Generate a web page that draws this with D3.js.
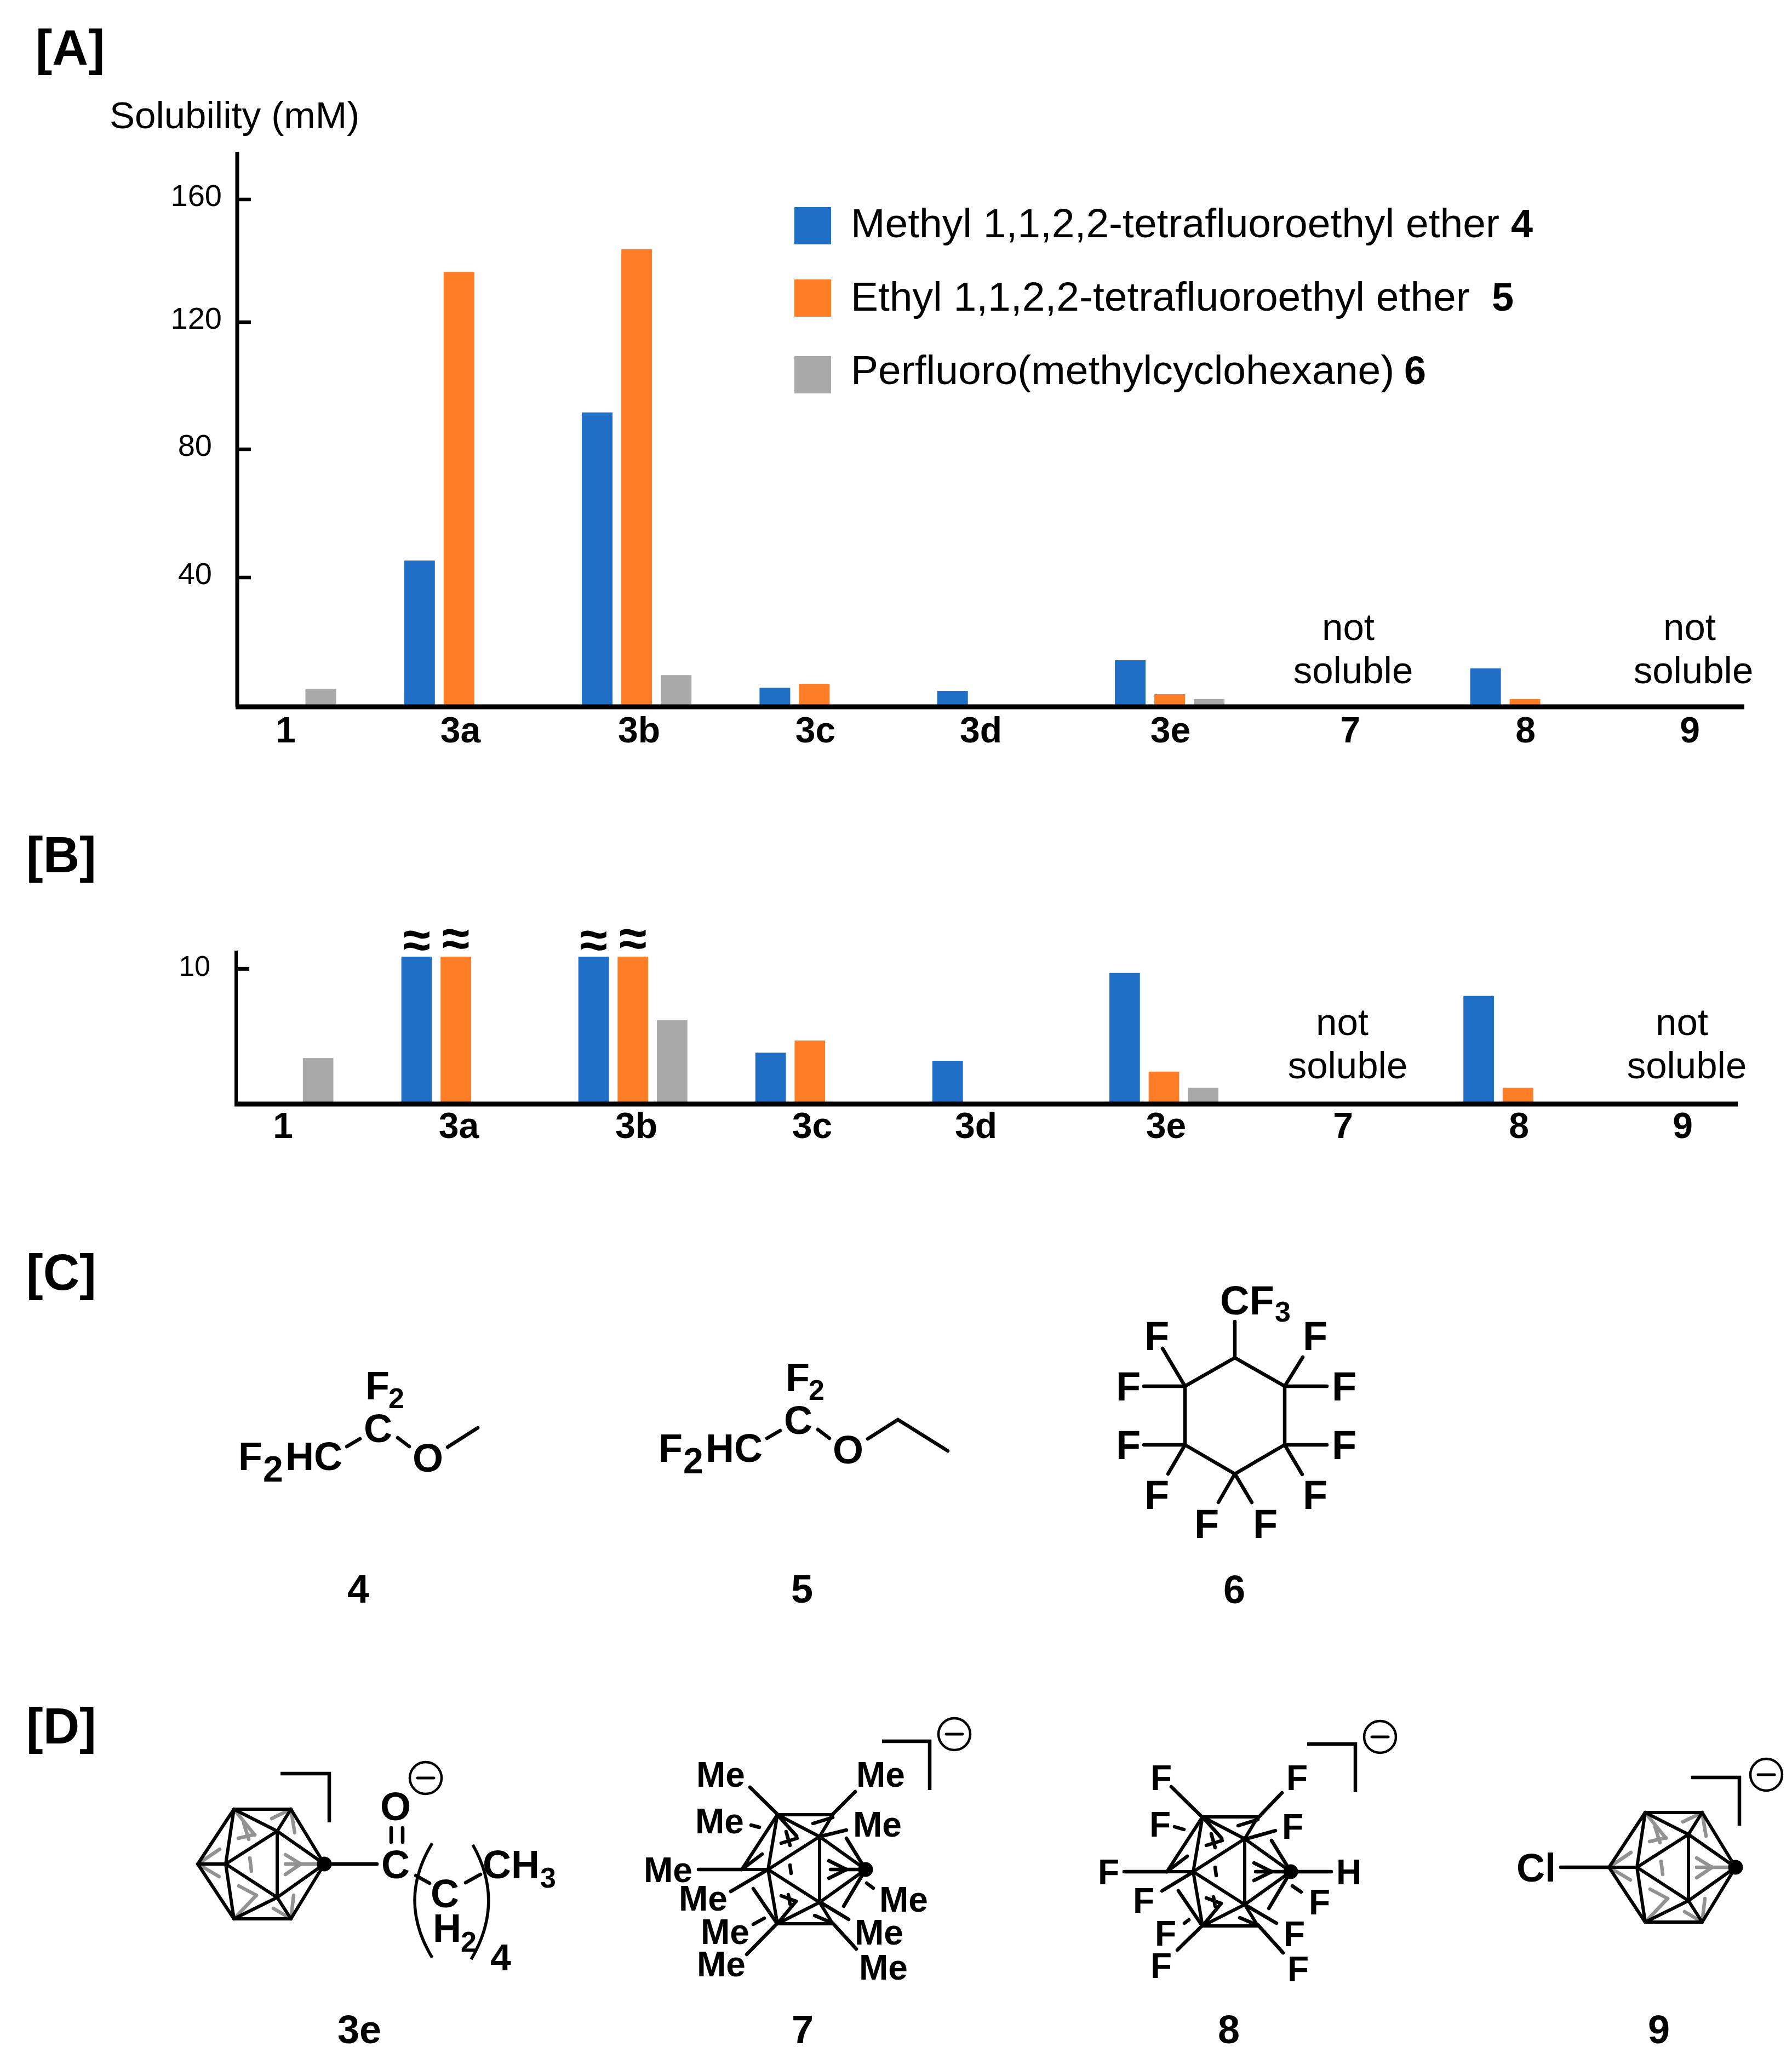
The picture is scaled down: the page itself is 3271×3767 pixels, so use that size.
<!DOCTYPE html>
<html>
<head>
<meta charset="utf-8">
<title>Solubility of carboranes</title>
<script src="https://cdn.jsdelivr.net/npm/d3@7"></script>
<style>
  body { margin: 0; background: #fff; }
  text { font-family: "Liberation Sans", Arial, sans-serif; fill: #000; }
  .tick text { font-family: "Liberation Sans", Arial, sans-serif; }
</style>
</head>
<body>
<script>
// values
var categories = ["1", "3a", "3b", "3c", "3d", "3e", "7", "8", "9"];
var seriesKeys = ["methyl", "ethyl", "perfluoro"];
var seriesNames = ["Methyl 1,1,2,2-tetrafluoroethyl ether", "Ethyl 1,1,2,2-tetrafluoroethyl ether", "Perfluoro(methylcyclohexane)"];
var seriesTags = ["4", "5", "6"];

var methylA = [0, 45.3, 91.6, 5.9, 4.9, 14.4, 0, 11.9, 0];
var ethylA = [0, 136.4, 143.8, 7.1, 0, 3.9, 0, 2.4, 0];
var perfluoroA = [5.6, 0, 9.8, 0, 0, 2.4, 0, 0, 0];

// panel B is cut at the break marks, 3a and 3b go on above 10.9
var methylB = [0, 10.9, 10.9, 3.8, 3.2, 9.7, 0, 8.0, 0];
var ethylB = [0, 10.9, 10.9, 4.7, 0, 2.4, 0, 1.2, 0];
var perfluoroB = [3.4, 0, 6.2, 0, 0, 1.2, 0, 0, 0];

var ticksA = [40, 80, 120, 160];
var ticksB = [10];
var notSoluble = ["7", "9"];
var brokenBars = [["3a", "methyl"], ["3a", "ethyl"], ["3b", "methyl"], ["3b", "ethyl"]];

var colors = d3.scaleOrdinal(seriesKeys, ["#1f6fc7", "#fd7e27", "#a9a9a9"]);

var svg = d3.select("body").append("svg")
    .attr("width", 3271)
    .attr("height", 3767)
    .style("display", "block");

svg.append("rect").attr("width", 3271).attr("height", 3767).attr("fill", "#fff");

function label(parent, text, x, y, size, bold, anchor) {
  return parent.append("text")
      .attr("x", x)
      .attr("y", y)
      .attr("font-size", size)
      .attr("font-weight", bold ? "bold" : "normal")
      .attr("text-anchor", anchor || "start")
      .text(text);
}

function rows(methyl, ethyl, perfluoro) {
  return categories.map(function(c, i) {
    return {category: c, methyl: methyl[i], ethyl: ethyl[i], perfluoro: perfluoro[i]};
  });
}

function drawBars(g, table, x, inner, y) {
  var groups = g.selectAll(".group")
    .data(table)
    .enter().append("g")
      .attr("class", "group")
      .attr("transform", function(d) { return "translate(" + x(d.category) + ",0)"; });

  groups.selectAll("rect")
    .data(function(d) {
      return seriesKeys.map(function(k) { return {key: k, value: d[k]}; }).filter(function(e) { return e.value > 0; });
    })
    .enter().append("rect")
      .attr("x", function(d) { return inner(d.key); })
      .attr("y", function(d) { return y(d.value); })
      .attr("width", inner.bandwidth())
      .attr("height", function(d) { return y(0) - y(d.value); })
      .attr("fill", function(d) { return colors(d.key); });
}

function drawAxes(g, yAxis, y, labels, axisX, axisEnd, lineWidth, padding) {
  var ay = g.append("g")
      .attr("transform", "translate(" + axisX + ",0)")
      .call(yAxis);
  ay.selectAll("path, line").attr("stroke", "#000");
  ay.select(".domain").attr("stroke-width", lineWidth);
  ay.selectAll(".tick line").attr("stroke-width", 6.5);

  g.append("line")
      .attr("x1", axisX - 3)
      .attr("x2", axisEnd)
      .attr("y1", y(0))
      .attr("y2", y(0))
      .attr("stroke", "#000")
      .attr("stroke-width", 9);

  var ax = g.append("g")
      .attr("transform", "translate(0," + y(0) + ")")
      .call(d3.axisBottom(labels).tickSize(0).tickPadding(padding));
  ax.select(".domain").remove();
  ax.selectAll("text").attr("font-size", 66).attr("font-weight", "bold");
  return ay;
}

function drawNotSoluble(g, pos) {
  notSoluble.forEach(function(c) {
    var p = pos[c];
    label(g, "not", p[0], p[2], 69, false, "middle");
    label(g, "soluble", p[1], p[3], 69, false, "middle");
  });
}

// panel A
var panelA = svg.append("g");
var xA = d3.scaleBand().domain(categories).range([413.5, 413.5 + 9 * 324.3]);
var innerA = d3.scaleBand().domain(seriesKeys).range([0, 200]).paddingInner(16 / 72);
// the printed axis is not quite even, so the scale follows its ticks
var yA = d3.scaleLinear().domain([0, 40, 80, 120, 160, 175]).range([1290, 1054, 820, 588, 364, 277]);
var labelsA = d3.scaleOrdinal(categories, [521, 840, 1166, 1488, 1790, 2136, 2464, 2784, 3084]);

drawBars(panelA, rows(methylA, ethylA, perfluoroA), xA, innerA, yA);

var axisA = drawAxes(panelA, d3.axisLeft(yA).tickValues(ticksA).tickSize(-25).tickSizeOuter(0).tickPadding(28).offset(0), yA, labelsA, 433, 3184, 7, 18);
axisA.selectAll(".tick text")
    .attr("font-size", 56)
    .attr("y", -6)
    .attr("x", function(d) { return d < 100 ? -46 : -28; });

label(panelA, "[A]", 65, 118, 91, true);
label(panelA, "Solubility (mM)", 200, 234, 69);
drawNotSoluble(panelA, {"7": [2461, 2470, 1168, 1247], "9": [3084, 3091, 1168, 1247]});

// legend
var legendY = d3.scaleOrdinal(seriesKeys, [412, 544, 684]);
var legendBase = d3.scaleOrdinal(seriesKeys, [433, 567, 701]);
var tagX = d3.scaleOrdinal(seriesKeys, [2758, 2723, 2563]);
var legend = panelA.selectAll(".legend")
  .data(seriesKeys)
  .enter().append("g")
    .attr("class", "legend");

legend.append("rect")
    .attr("x", 1450)
    .attr("y", function(d) { return legendY(d) - 34; })
    .attr("width", 67)
    .attr("height", 68)
    .attr("fill", colors);

legend.append("text")
    .attr("x", 1553)
    .attr("y", legendBase)
    .attr("font-size", 75)
    .text(function(d, i) { return seriesNames[i]; });

legend.append("text")
    .attr("x", tagX)
    .attr("y", legendBase)
    .attr("font-size", 72)
    .attr("font-weight", "bold")
    .text(function(d, i) { return seriesTags[i]; });

// panel B
var panelB = svg.append("g");
var xB = d3.scaleBand().domain(categories).range([409.5, 409.5 + 9 * 323.1]);
var innerB = d3.scaleBand().domain(seriesKeys).range([0, 199]).paddingInner(16 / 72);
var yB = d3.scaleLinear().domain([0, 11.35]).range([2015, 1735]);
var labelsB = d3.scaleOrdinal(categories, [516, 837, 1161, 1482, 1781, 2128, 2451, 2772, 3071]);

drawBars(panelB, rows(methylB, ethylB, perfluoroB), xB, innerB, yB);

var axisB = drawAxes(panelB, d3.axisLeft(yB).tickValues(ticksB).tickSize(-24).tickSizeOuter(0).tickPadding(47).offset(0), yB, labelsB, 431, 3172, 6, 15);
axisB.selectAll(".tick text").attr("font-size", 52).attr("y", -4);
axisB.selectAll(".tick line").attr("stroke-width", 7);

brokenBars.forEach(function(b) {
  var cx = xB(b[0]) + innerB(b[1]) + innerB.bandwidth() / 2;
  label(panelB, "\u2248", cx, b[1] == "ethyl" ? 1744 : 1747, 92, true, "middle");
});

label(panelB, "[B]", 48, 1592, 92, true);
drawNotSoluble(panelB, {"7": [2450, 2460, 1889, 1968], "9": [3070, 3079, 1889, 1968]});

// structures, drawn from the traced outlines
var structures = svg.append("g");

function drawLines(parent, list, color, width) {
  parent.append("g")
      .attr("stroke", color || "#000")
      .attr("stroke-width", width || 6.5)
      .attr("stroke-linecap", "round")
    .selectAll("line")
    .data(list)
    .enter().append("line")
      .attr("x1", function(d) { return d[0]; })
      .attr("y1", function(d) { return d[1]; })
      .attr("x2", function(d) { return d[2]; })
      .attr("y2", function(d) { return d[3]; });
}

function drawAtoms(parent, list) {
  parent.selectAll(".atom")
    .data(list)
    .enter().append("text")
      .attr("class", "atom")
      .attr("x", function(d) { return d[1] - 4; })
      .attr("y", function(d) { return d[2]; })
      .attr("font-size", function(d) { return d[3]; })
      .attr("font-weight", "bold")
      .text(function(d) { return d[0]; });
}

function drawCharge(parent, bracket, cx, cy) {
  parent.append("path")
      .attr("d", d3.line()(bracket))
      .attr("fill", "none")
      .attr("stroke", "#000")
      .attr("stroke-width", 6.5);
  parent.append("circle")
      .attr("cx", cx)
      .attr("cy", cy)
      .attr("r", 29)
      .attr("fill", "none")
      .attr("stroke", "#000")
      .attr("stroke-width", 4.5);
  drawLines(parent, [[cx - 15, cy, cx + 15, cy]], "#000", 5);
}

label(structures, "[C]", 48, 2354, 92, true);
label(structures, "[D]", 48, 3182, 92, true);

// 4 and 5 share the tetrafluoroethyl part
var etherAtoms = [
  ["F", 439, 2683, 72], ["2", 484, 2704, 66], ["HC", 525, 2683, 72],
  ["C", 668, 2632, 72], ["F", 671, 2554, 72], ["2", 713, 2570, 52], ["O", 757, 2686, 72]
];
var etherBonds = [[633, 2640, 657, 2626], [726, 2624, 747, 2640], [817, 2641, 872, 2606]];

var mol4 = structures.append("g");
drawAtoms(mol4, etherAtoms);
drawLines(mol4, etherBonds);

var mol5 = structures.append("g").attr("transform", "translate(767,-15)");
drawAtoms(mol5, etherAtoms);
drawLines(mol5, etherBonds.concat([[872, 2606, 963, 2663]]));

// 6
var ring = {top: [2254, 2478], ur: [2345, 2530], lr: [2345, 2637], bottom: [2254, 2690], ll: [2163, 2637], ul: [2163, 2530]};
var mol6 = structures.append("g");
mol6.append("path")
    .attr("d", d3.line()([ring.top, ring.ur, ring.lr, ring.bottom, ring.ll, ring.ul]) + "Z")
    .attr("fill", "none")
    .attr("stroke", "#000")
    .attr("stroke-width", 6.5);
drawLines(mol6, [
  [2254, 2478, 2254, 2412],
  [2163, 2530, 2122, 2461], [2163, 2530, 2088, 2530],
  [2345, 2530, 2378, 2477], [2345, 2530, 2422, 2530],
  [2163, 2637, 2088, 2637], [2163, 2637, 2132, 2690],
  [2345, 2637, 2422, 2637], [2345, 2637, 2377, 2691],
  [2254, 2690, 2224, 2742], [2254, 2690, 2285, 2742]
]);
drawAtoms(mol6, [
  ["CF", 2231, 2399, 74], ["3", 2331, 2412, 52],
  ["F", 2093, 2464, 74], ["F", 2382, 2464, 74], ["F", 2041, 2556, 74], ["F", 2435, 2556, 74],
  ["F", 2041, 2663, 74], ["F", 2435, 2663, 74], ["F", 2093, 2754, 74], ["F", 2382, 2754, 74],
  ["F", 2184, 2807, 74], ["F", 2291, 2807, 74]
]);

// carborane cage, local coordinates from the left vertex
var cageFront = [
  ["L", "T1"], ["L", "B1"], ["T1", "T2"], ["B1", "B2"], ["T2", "R"], ["B2", "R"], ["L", "I1"], ["T1", "I1"], ["B1", "I1"],
  ["I1", "I2"], ["I1", "I3"], ["I2", "I3"], ["I2", "R"], ["I3", "R"], ["I2", "T1"], ["I2", "T2"], ["I3", "B1"], ["I3", "B2"]
];
var cageNodes = {L: [0, 0], T1: [66, -100], T2: [170, -100], R: [231, 0], B1: [66, 100], B2: [170, 100], I1: [51, 0], I2: [145, -60], I3: [145, 61]};
var cageBack = [
  [0, 0, 40, -27], [0, 0, 39, 23],
  [66, -100, 104, -53], [74, -47, 104, -54], [84, -74, 93, -45],
  [170, -100, 135, -83], [170, -100, 177, -57],
  [231, 0, 160, 0], [160, -17, 188, 0], [160, 19, 188, 0],
  [95, -11, 98, 13],
  [66, 100, 107, 57], [75, 40, 107, 57],
  [170, 100, 138, 81], [170, 100, 175, 57]
];

// the substituted cages of 7 and 8 have gaps round the outer bonds and black rear bonds
var cageNodesSub = {L: [0, 0], T1: [65, -100], T2: [166, -100], R: [226, 0], B1: [65, 99], B2: [166, 99], I1: [48, 0], I2: [142, -60], I3: [142, 60]};
var cageFrontSub = cageFront.filter(function(b) {
  return b.join() != "L,B1" && b.join() != "T2,R" && b.join() != "B2,R";
});
var cageBackSub = [
  [21, 35, 64, 98], [191, -57, 226, 0], [186, 67, 226, 0],
  [0, 0, 37, -28],
  [65, -100, 100, -61], [72, -48, 101, -57], [81, -69, 88, -44],
  [130, -84, 166, -95],
  [226, 0, 162, 0], [159, -16, 191, 0], [159, 16, 191, 0],
  [88, -8, 90, 7],
  [65, 99, 99, 58], [72, 48, 99, 58], [85, 46, 88, 63],
  [133, 84, 166, 98]
];

function drawCage(parent, nodes, front, back, backColor, x, y) {
  var g = parent.append("g").attr("transform", "translate(" + x + "," + y + ")");
  drawLines(g, back, backColor, 6.5);
  drawLines(g, front.map(function(b) { return nodes[b[0]].concat(nodes[b[1]]); }), "#000", 6);
  g.append("circle")
      .attr("cx", nodes.R[0])
      .attr("cy", 0)
      .attr("r", 13.5)
      .attr("fill", "#000");
}

// 3e
var mol3e = structures.append("g");
drawCage(mol3e, cageNodes, cageFront, cageBack, "#929292", 361, 3402);
drawCharge(mol3e, [[512, 3237], [601, 3237], [601, 3326]], 777, 3245);
drawLines(mol3e, [
  [591, 3402, 688, 3402], [714, 3336, 714, 3362], [735, 3336, 735, 3362],
  [759, 3423, 784, 3437], [850, 3436, 877, 3421]
]);
drawAtoms(mol3e, [
  ["C", 700, 3428, 72], ["O", 698, 3322, 72], ["C", 790, 3481, 72], ["H", 794, 3544, 72], ["2", 845, 3562, 52],
  ["CH", 885, 3428, 72], ["3", 990, 3445, 52], ["4", 899, 3596, 68]
]);
mol3e.selectAll(".paren")
  .data([[789, 3364, 725, 3468, 789, 3573], [863, 3367, 922, 3471, 860, 3576]])
  .enter().append("path")
    .attr("class", "paren")
    .attr("d", function(d) { return "M" + d[0] + "," + d[1] + "Q" + d[2] + "," + d[3] + " " + d[4] + "," + d[5]; })
    .attr("fill", "none")
    .attr("stroke", "#000")
    .attr("stroke-width", 5.5);

// 7
var mol7 = structures.append("g");
drawCage(mol7, cageNodesSub, cageFrontSub, cageBackSub, "#000", 1354, 3412);
drawCharge(mol7, [[1610, 3178], [1697, 3178], [1697, 3267]], 1742, 3165);
drawLines(mol7, [
  [1419, 3311, 1369, 3262], [1520, 3311, 1561, 3270], [1371, 3331, 1386, 3335], [1496, 3352, 1545, 3340],
  [1354, 3412, 1275, 3412], [1402, 3412, 1334, 3452], [1375, 3512, 1395, 3501], [1419, 3510, 1363, 3567],
  [1582, 3437, 1594, 3446], [1496, 3471, 1549, 3503], [1520, 3510, 1563, 3557]
]);
drawAtoms(mol7, [[1275, 3261], [1567, 3261], [1273, 3346], [1561, 3352], [1179, 3435], [1243, 3487], [1283, 3548], [1276, 3607], [1609, 3489], [1564, 3549], [1572, 3613]].map(function(p) {
  return ["Me", p[0], p[1], 64];
}));

// 8
var mol8 = structures.append("g");
drawCage(mol8, cageNodesSub, cageFrontSub, cageBackSub, "#000", 2130, 3416);
drawCharge(mol8, [[2386, 3183], [2474, 3183], [2474, 3271]], 2519, 3170);
drawLines(mol8, [
  [2196, 3318, 2138, 3261], [2296, 3318, 2340, 3272], [2144, 3334, 2161, 3339], [2272, 3357, 2328, 3341],
  [2130, 3416, 2052, 3416], [2179, 3416, 2121, 3451], [2162, 3510, 2170, 3504], [2196, 3513, 2149, 3559],
  [2359, 3442, 2375, 3453], [2272, 3476, 2330, 3510], [2296, 3513, 2342, 3564], [2356, 3416, 2430, 3416]
]);
drawAtoms(mol8, [[2104, 3267], [2352, 3267], [2102, 3352], [2344, 3356], [2008, 3439], [2072, 3491], [2112, 3551], [2104, 3610], [2393, 3494], [2347, 3552], [2354, 3616]].map(function(p) {
  return ["F", p[0], p[1], 64];
}).concat([["H", 2443, 3439, 64]]));

// 9
var mol9 = structures.append("g");
drawCage(mol9, cageNodes, cageFront, cageBack, "#929292", 2937, 3408);
drawCharge(mol9, [[3087, 3244], [3175, 3244], [3175, 3332]], 3224, 3239);
drawLines(mol9, [[2849, 3408, 2937, 3408]]);
drawAtoms(mol9, [["Cl", 2772, 3434, 72]]);

// compound numbers
var compoundNames = ["4", "5", "6", "3e", "7", "8", "9"];
var compoundPos = d3.scaleOrdinal(compoundNames, [[654, 2925], [1464, 2925], [2253, 2926], [656, 3729], [1465, 3729], [2243, 3729], [3028, 3729]]);
structures.selectAll(".compound")
  .data(compoundNames)
  .enter().append("text")
    .attr("class", "compound")
    .attr("x", function(d) { return compoundPos(d)[0]; })
    .attr("y", function(d) { return compoundPos(d)[1]; })
    .attr("font-size", 72)
    .attr("font-weight", "bold")
    .attr("text-anchor", "middle")
    .text(function(d) { return d; });
</script>
</body>
</html>
